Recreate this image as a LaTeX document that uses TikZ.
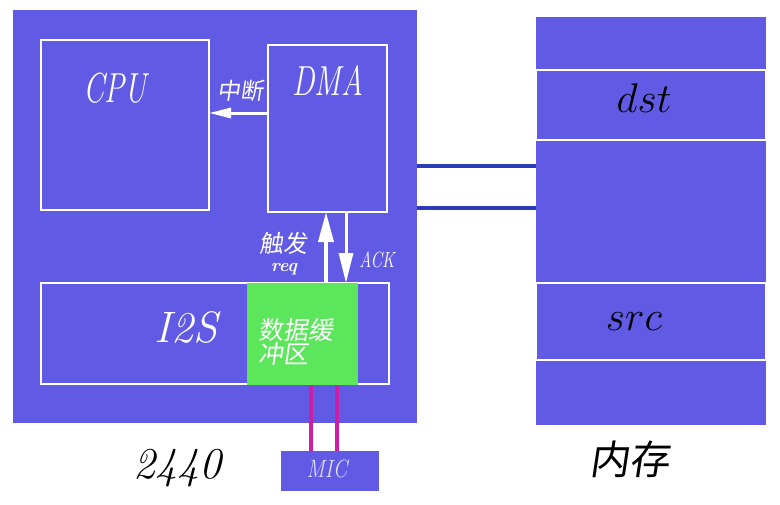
\documentclass[tikz,border=0pt]{standalone}
\usepackage{fontspec}
\newfontfamily\cjk[FakeSlant=0.15]{Noto Sans CJK SC}
\usetikzlibrary{arrows.meta}

\definecolor{chip}{HTML}{615AE4}
\definecolor{buffer}{HTML}{5CE65C}
\definecolor{wire}{HTML}{CC1FA6}
\definecolor{bus}{HTML}{2A3CB8}
\definecolor{pale}{HTML}{DCDCFF}

\tikzset{
  blk/.style={anchor=north west, inner sep=0pt, outer sep=0pt},
  frame/.style={blk, draw=white, line width=1.2pt},
  sig/.style={white, line width=1.5pt},
  lbl/.style={inner sep=0pt, text=white},
}
\newcommand{\squeeze}[2][0.72]{\scalebox{#1}[1]{#2}}

\begin{document}
\begin{tikzpicture}[x=0.5pt,y=-0.5pt]
  \useasboundingbox (0,0) rectangle (780,504);
  % 2440 board
  \node[blk, fill=chip, minimum width=202pt, minimum height=206.5pt] (board) at (13,10) {};
  \node[frame, minimum width=84pt, minimum height=85pt] (cpu) at (41,40) {};
  \node[frame, minimum width=59.5pt, minimum height=83.5pt] (dma) at (268,45) {};
  \node[frame, minimum width=174pt, minimum height=50.5pt] (i2s) at (41,283) {};
  \node[blk, fill=buffer, minimum width=55.5pt, minimum height=51pt] (buf) at (247,283) {};
  \node[blk, fill=chip, minimum width=49pt, minimum height=20pt] (mic) at (281,451) {};
  % memory
  \node[blk, fill=chip, minimum width=115pt, minimum height=204pt] (mem) at (536,17) {};
  \node[frame, minimum width=115pt, minimum height=35pt] (dst) at (536,70) {};
  \node[frame, minimum width=115pt, minimum height=38.5pt] (src) at (536,283) {};

  % texts
  \node[lbl, font=\fontsize{21}{21}\selectfont\itshape] (cputxt) at (115,88) {\squeeze{CPU}};
  \node[lbl, font=\fontsize{21}{21}\selectfont\itshape] (dmatxt) at (328,81) {\squeeze{DMA}};
  \node[lbl, font=\fontsize{22}{22}\selectfont\itshape] (i2stxt) at (186,327) {I2S};
  \node[lbl, font=\cjk\fontsize{11.5}{11.5}\selectfont] (irqtxt) at (240,91) {中断};
  \node[lbl, font=\cjk\fontsize{12}{12}\selectfont] (trgtxt) at (283,243) {触发};
  \node[lbl, font=\fontsize{9}{9}\selectfont\bfseries\itshape] (reqtxt) at (284,269) {req};
  \node[lbl, font=\fontsize{11}{11}\selectfont\itshape] (acktxt) at (377,260) {\squeeze[0.75]{ACK}};
  \node[lbl, font=\cjk\fontsize{12.5}{12}\selectfont, align=left, anchor=west] (buftxt) at (258,342) {数据缓\\冲区};
  \node[lbl, text=pale, font=\fontsize{12.5}{12.5}\selectfont\itshape] (mictxt) at (327,469) {\squeeze[0.83]{MIC}};
  \node[inner sep=0pt, font=\fontsize{22}{22}\selectfont\itshape] (chiptxt) at (177,468) {2440};
  \node[inner sep=0pt, font=\cjk\fontsize{20}{20}\selectfont] (memtxt) at (629,459) {内存};
  \node[inner sep=0pt, font=\fontsize{22}{22}\selectfont] (dsttxt) at (644,98) {$dst$};
  \node[inner sep=0pt, font=\fontsize{22}{22}\selectfont] (srctxt) at (634,322) {$src$};

  % signals
  \coordinate (irq) at (240,113);
  \coordinate (req) at (326,250);
  \coordinate (ack) at (346,250);
  \draw[sig, -{Triangle[length=11pt,width=5pt]}] (dma.west |- irq) -- (cpu.east |- irq);
  \draw[sig, line width=1.8pt, -{Triangle[length=15pt,width=7.5pt]}] (buf.north -| req) -- (dma.south -| req);
  \draw[sig, -{Triangle[length=15pt,width=7pt]}] (dma.south -| ack) -- (buf.north -| ack);

  % mic wires and bus
  \foreach \x in {311,337} {
    \coordinate (w) at (\x,420);
    \draw[wire, line width=1.6pt] (buf.south -| w) -- (mic.north -| w);
  }
  \foreach \y in {166,208} {
    \coordinate (b) at (480,\y);
    \draw[bus, line width=1.6pt] (board.east |- b) -- (mem.west |- b);
  }
\end{tikzpicture}
\end{document}
